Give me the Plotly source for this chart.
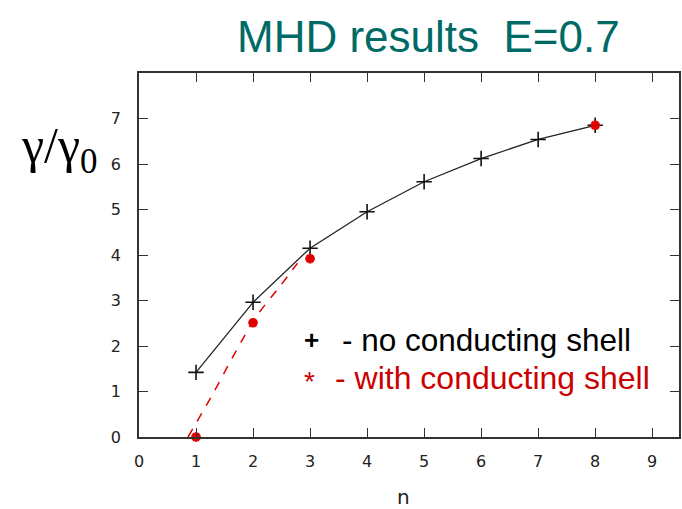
import plotly.graph_objects as go

# Growth rate vs toroidal mode number n
n_values = [1, 2, 3, 4, 5, 6, 7, 8]
growth_no_shell = [1.42, 2.96, 4.15, 4.95, 5.61, 6.12, 6.54, 6.85]

n_shell = [1, 2, 3, 8]
growth_shell = [0.0, 2.51, 3.92, 6.85]

# dashed trend through the conducting-shell points
fit_n = [0.86, 1.30, 1.68, 2.06, 2.47, 2.78]
fit_growth = [0.0, 0.96, 1.84, 2.65, 3.31, 3.82]

x_ticks = [0, 1, 2, 3, 4, 5, 6, 7, 8, 9]
y_ticks = [0, 1, 2, 3, 4, 5, 6, 7]

TEAL = "#006a66"
RED = "#e00000"
AXIS = "#333333"

fig = go.Figure()

fig.add_trace(go.Scatter(
    x=fit_n, y=fit_growth, mode="lines",
    line=dict(color=RED, width=1.5, dash="dash", shape="spline"),
    cliponaxis=False, showlegend=False,
))
fig.add_trace(go.Scatter(
    x=n_values, y=growth_no_shell, mode="lines+markers",
    line=dict(color="#222222", width=1.3),
    marker=dict(symbol="cross-thin-open", size=11, color="#111111",
                line=dict(color="#111111", width=1.6)),
    cliponaxis=False, showlegend=False,
))
fig.add_trace(go.Scatter(
    x=n_shell, y=growth_shell, mode="markers",
    marker=dict(symbol="asterisk-open", size=8, color=RED,
                line=dict(color=RED, width=3)),
    cliponaxis=False, showlegend=False,
))

axis_common = dict(
    showgrid=False, zeroline=False, showline=True, mirror="allticks",
    linecolor=AXIS, linewidth=1.5, ticks="inside", tickcolor=AXIS,
    tickwidth=1.3, ticklen=9,
    tickfont=dict(family="DejaVu Sans", size=16, color="#222222"),
)

fig.update_xaxes(range=[0, 9.47], tickvals=x_ticks, ticklabelstandoff=9,
                 **axis_common)
fig.update_yaxes(range=[0, 8], tickvals=y_ticks, ticklabelstandoff=13,
                 **axis_common)

annotations = [
    dict(text="MHD results  E=0.7", x=0.537, y=1.10, xref="paper",
         yref="paper", xanchor="center", yanchor="middle", showarrow=False,
         font=dict(family="Liberation Sans", size=44, color=TEAL)),
    dict(text="γ/γ<sub>0</sub>", x=-0.222, y=0.79, xref="paper",
         yref="paper", xanchor="left", yanchor="middle", showarrow=False,
         font=dict(family="Liberation Serif", size=50, color="#000000")),
    dict(text="n", x=0.49, y=-0.165, xref="paper", yref="paper",
         xanchor="center", yanchor="middle", showarrow=False,
         font=dict(family="DejaVu Sans", size=20, color="#222222")),
    dict(text="<b>+</b>", x=3.02, y=2.14, xanchor="center",
         yanchor="middle", showarrow=False,
         font=dict(family="Liberation Sans", size=26, color="#000000")),
    dict(text="- no conducting shell", x=3.53, y=2.14, xanchor="left",
         yanchor="middle", showarrow=False,
         font=dict(family="Liberation Sans", size=31.5, color="#000000")),
    dict(text="*", x=2.99, y=1.22, xanchor="center", yanchor="middle",
         showarrow=False,
         font=dict(family="Liberation Sans", size=28, color="#cc0000")),
    dict(text="- with conducting shell", x=3.41, y=1.30, xanchor="left",
         yanchor="middle", showarrow=False,
         font=dict(family="Liberation Sans", size=32, color="#cc0000")),
]

fig.update_layout(
    width=682, height=509,
    margin=dict(l=139, r=1, t=73, b=72),
    paper_bgcolor="#ffffff", plot_bgcolor="#ffffff",
    annotations=annotations,
)

fig.write_html("out.html")
